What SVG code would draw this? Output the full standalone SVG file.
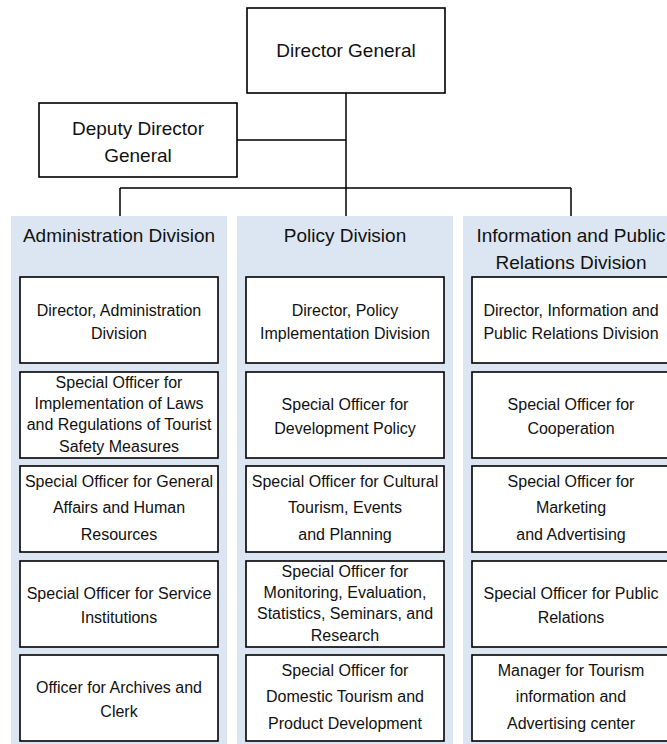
<svg xmlns="http://www.w3.org/2000/svg" width="667" height="744" viewBox="0 0 667 744">
<style>
.panel{fill:#DCE6F2;stroke:none}
.box{fill:#fff;stroke:#000;stroke-width:1.6}
.ln{fill:none;stroke:#000;stroke-width:1.5}
text{font-family:"Liberation Sans",Arial,sans-serif;fill:#111;text-anchor:middle}
.t{font-size:16px}
.h{font-size:19px}
</style>
<rect width="667" height="744" fill="#fff"/>
<g id="connectors">
<path class="ln" d="M346 93V216M237 140H346M120 188H571M120 188V216M571 188V216"/>
</g>
<g id="director-general">
<rect class="box" x="247" y="8" width="198" height="85"/>
<text class="h" x="346" y="57">Director General</text>
</g>
<g id="deputy-director-general">
<rect class="box" x="39" y="103" width="198" height="74"/>
<text class="h" x="138" y="135">Deputy Director</text>
<text class="h" x="138" y="162">General</text>
</g>
<g id="administration-division">
<rect class="panel" x="11" y="216" width="216" height="528"/>
<text class="h" x="119" y="242">Administration Division</text>
</g>
<g id="policy-division">
<rect class="panel" x="237" y="216" width="216" height="528"/>
<text class="h" x="345" y="242">Policy Division</text>
</g>
<g id="information-division">
<rect class="panel" x="463" y="216" width="216" height="528"/>
<text class="h" x="571" y="242">Information and Public</text>
<text class="h" x="571" y="269">Relations Division</text>
</g>
<g id="adm-1">
<rect class="box" x="20" y="277" width="198" height="86"/>
<text class="t" x="119" y="316">Director, Administration</text>
<text class="t" x="119" y="339">Division</text>
</g>
<g id="adm-2">
<rect class="box" x="20" y="372" width="198" height="86"/>
<text class="t" x="119" y="388">Special Officer for</text>
<text class="t" x="119" y="409">Implementation of Laws</text>
<text class="t" x="119" y="430">and Regulations of Tourist</text>
<text class="t" x="119" y="452">Safety Measures</text>
</g>
<g id="adm-3">
<rect class="box" x="20" y="466" width="198" height="86"/>
<text class="t" x="119" y="487">Special Officer for General</text>
<text class="t" x="119" y="513">Affairs and Human</text>
<text class="t" x="119" y="540">Resources</text>
</g>
<g id="adm-4">
<rect class="box" x="20" y="561" width="198" height="86"/>
<text class="t" x="119" y="599">Special Officer for Service</text>
<text class="t" x="119" y="623">Institutions</text>
</g>
<g id="adm-5">
<rect class="box" x="20" y="655" width="198" height="86"/>
<text class="t" x="119" y="693">Officer for Archives and</text>
<text class="t" x="119" y="717">Clerk</text>
</g>
<g id="pol-1">
<rect class="box" x="246" y="277" width="198" height="86"/>
<text class="t" x="345" y="316">Director, Policy</text>
<text class="t" x="345" y="339">Implementation Division</text>
</g>
<g id="pol-2">
<rect class="box" x="246" y="372" width="198" height="86"/>
<text class="t" x="345" y="410">Special Officer for</text>
<text class="t" x="345" y="434">Development Policy</text>
</g>
<g id="pol-3">
<rect class="box" x="246" y="466" width="198" height="86"/>
<text class="t" x="345" y="487">Special Officer for Cultural</text>
<text class="t" x="345" y="513">Tourism, Events</text>
<text class="t" x="345" y="540">and Planning</text>
</g>
<g id="pol-4">
<rect class="box" x="246" y="561" width="198" height="86"/>
<text class="t" x="345" y="577">Special Officer for</text>
<text class="t" x="345" y="598">Monitoring, Evaluation,</text>
<text class="t" x="345" y="619">Statistics, Seminars, and</text>
<text class="t" x="345" y="641">Research</text>
</g>
<g id="pol-5">
<rect class="box" x="246" y="655" width="198" height="86"/>
<text class="t" x="345" y="676">Special Officer for</text>
<text class="t" x="345" y="702">Domestic Tourism and</text>
<text class="t" x="345" y="729">Product Development</text>
</g>
<g id="inf-1">
<rect class="box" x="472" y="277" width="198" height="86"/>
<text class="t" x="571" y="316">Director, Information and</text>
<text class="t" x="571" y="339">Public Relations Division</text>
</g>
<g id="inf-2">
<rect class="box" x="472" y="372" width="198" height="86"/>
<text class="t" x="571" y="410">Special Officer for</text>
<text class="t" x="571" y="434">Cooperation</text>
</g>
<g id="inf-3">
<rect class="box" x="472" y="466" width="198" height="86"/>
<text class="t" x="571" y="487">Special Officer for</text>
<text class="t" x="571" y="513">Marketing</text>
<text class="t" x="571" y="540">and Advertising</text>
</g>
<g id="inf-4">
<rect class="box" x="472" y="561" width="198" height="86"/>
<text class="t" x="571" y="599">Special Officer for Public</text>
<text class="t" x="571" y="623">Relations</text>
</g>
<g id="inf-5">
<rect class="box" x="472" y="655" width="198" height="86"/>
<text class="t" x="571" y="676">Manager for Tourism</text>
<text class="t" x="571" y="702">information and</text>
<text class="t" x="571" y="729">Advertising center</text>
</g>
</svg>
